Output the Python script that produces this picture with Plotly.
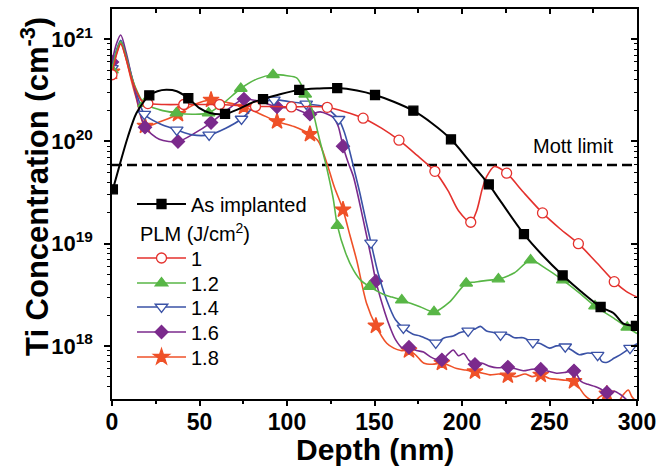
import plotly.graph_objects as go
import math

# ---------------- data ----------------
mott_limit = 5.9e19
depth_range = [0, 300]

as_impl_depth = [0.5, 4.5, 9, 14, 21.3, 26, 31, 37, 43.6, 50, 56, 64.6, 73, 80, 86.3, 96, 107, 118,
                 128.7, 140, 150.3, 161, 172.2, 183, 193.7, 204, 215.3, 221.7, 235.4, 246, 257.5, 268,
                 279.2, 286.5, 292.2, 299.4]
as_impl_conc = [3.4e19, 6.0e19, 1.1e20, 1.9e20, 2.83e20, 3.1e20, 3.2e20, 3.1e20, 2.65e20, 2.12e20,
                1.9e20, 1.86e20, 2.1e20, 2.4e20, 2.6e20, 2.9e20, 3.2e20, 3.3e20, 3.33e20, 3.15e20,
                2.85e20, 2.45e20, 2.0e20, 1.5e20, 1.05e20, 6.5e19, 3.8e19, 2.65e19, 1.24e19, 7.7e18,
                4.9e18, 3.4e18, 2.4e18, 2.1e18, 1.65e18, 1.57e18]
as_impl_marks = [0.5, 21.3, 43.6, 64.6, 86.3, 107, 128.7, 150.3, 172.2, 193.7, 215.3, 235.4, 257.5,
                 279.2, 299.4]

plm1_depth = [0, 2.5, 5, 8, 11, 14, 17, 20.5, 30, 41, 51, 61.5, 72, 82, 92, 102.5, 113, 123, 133,
              143.5, 154, 164, 174, 184.5, 192, 198, 205, 208.4, 211.5, 214, 218.5, 225.5, 235, 246,
              256, 266.5, 277, 287, 294, 300]
plm1_conc = [4.5e20, 7.0e20, 9.0e20, 6.5e20, 4.2e20, 3.1e20, 2.5e20, 2.35e20, 2.3e20, 2.3e20, 2.3e20,
             2.3e20, 2.25e20, 2.2e20, 2.2e20, 2.18e20, 2.2e20, 2.16e20, 1.95e20, 1.69e20, 1.35e20,
             1.03e20, 7.4e19, 5.1e19, 3.3e19, 2.1e19, 1.62e19, 2.1e19, 3.4e19, 4.5e19, 5.7e19,
             4.9e19, 3.2e19, 2.0e19, 1.4e19, 1.0e19, 6.5e18, 4.25e18, 3.4e18, 3.0e18]
plm1_marks = [0, 20.5, 41, 61.5, 82, 102.5, 123, 143.5, 164, 184.5, 205, 225.5, 246, 266.5, 287]

plm12_depth = [0, 2.5, 5, 8, 11, 14, 18.4, 27, 36.8, 46, 55.2, 64, 73.6, 83, 92, 100, 105.5, 108.5,
               110.4, 113, 115.5, 118, 120.5, 122.3, 124.5, 126.5, 128.8, 133.5, 138, 142, 147.2,
               155, 160, 165.6, 171, 176, 184, 193, 202.4, 207, 211, 216, 220.8, 230, 239.2, 248,
               257.6, 267, 276, 286, 294.4, 300]
plm12_conc = [5.0e20, 7.5e20, 9.5e20, 6.8e20, 4.4e20, 3.2e20, 2.35e20, 2.05e20, 1.9e20, 1.85e20,
              1.9e20, 2.4e20, 3.3e20, 4.1e20, 4.5e20, 4.4e20, 4.2e20, 3.5e20, 2.9e20, 2.4e20, 1.75e20,
              1.15e20, 7.8e19, 5.9e19, 4.0e19, 2.7e19, 1.5e19, 8.1e18, 5.5e18, 4.4e18, 3.8e18,
              3.2e18, 3.0e18, 2.8e18, 2.6e18, 2.42e18, 2.15e18, 2.7e18, 4.1e18, 4.2e18, 4.3e18,
              4.4e18, 4.5e18, 5.2e18, 6.9e18, 5.7e18, 4.4e18, 3.3e18, 2.45e18, 1.9e18, 1.52e18,
              1.32e18]
plm12_marks = [0, 18.4, 36.8, 55.2, 73.6, 92, 110.4, 128.8, 147.2, 165.6, 184, 202.4, 220.8, 239.2,
               257.6, 276, 294.4]

plm14_depth = [0, 2.5, 5, 8, 11, 14, 18.5, 27, 37, 46, 55.5, 65, 74, 83, 92.5, 102, 111, 121, 129.5,
               133, 136, 139, 141.7, 145, 148, 152, 157, 162, 166.5, 172, 176, 181, 185, 190, 195,
               199, 203.5, 207, 210.5, 214, 218, 222, 226, 230, 235, 240.5, 245, 250, 254, 259, 263,
               267, 272, 277.5, 280, 283, 287, 291, 296, 300]
plm14_conc = [5.2e20, 7.8e20, 9.8e20, 7.0e20, 4.5e20, 3.0e20, 1.85e20, 1.5e20, 1.3e20, 1.16e20,
              1.16e20, 1.35e20, 1.66e20, 2.3e20, 2.55e20, 2.45e20, 2.33e20, 2.2e20, 1.65e20, 1.2e20,
              7.8e19, 4.8e19, 3.1e19, 1.7e19, 1.02e19, 5.2e18, 2.8e18, 1.8e18, 1.5e18, 1.3e18,
              1.25e18, 1.15e18, 1.07e18, 1.2e18, 1.25e18, 1.35e18, 1.4e18, 1.45e18, 1.55e18, 1.4e18,
              1.35e18, 1.28e18, 1.3e18, 1.2e18, 1.2e18, 1.08e18, 1.05e18, 9.5e17, 1.0e18, 9.8e17,
              9.0e17, 8.2e17, 8.5e17, 8.1e17, 7.0e17, 6.9e17, 7.6e17, 8.3e17, 9.5e17, 1.05e18]
plm14_marks = [0, 18.5, 37, 55.5, 74, 92.5, 111, 129.5, 148, 166.5, 185, 203.5, 222, 240.5, 259,
               277.5, 296]

plm16_depth = [0, 2.5, 5, 8, 11, 14, 18.85, 27, 37.7, 47, 56.6, 66, 75.4, 85, 94.3, 104, 113.1, 119,
               126.5, 129.3, 132, 135, 138, 143.6, 148.4, 150.8, 156, 159, 162, 166, 169.7, 174, 178,
               182, 185, 188.5, 192, 195, 198, 201, 204, 207.4, 211, 216, 220, 226.2, 230, 235, 240,
               245, 250, 254, 259, 264, 268, 272, 276, 279, 282.8, 287, 291, 295, 300]
plm16_conc = [6.0e20, 9.0e20, 1.1e21, 7.5e20, 4.5e20, 2.7e20, 1.38e20, 1.05e20, 1.0e20, 1.2e20,
              1.53e20, 2.05e20, 2.6e20, 2.45e20, 2.18e20, 2.1e20, 1.85e20, 1.95e20, 1.72e20, 1.4e20,
              9.0e19, 6.2e19, 4.5e19, 1.7e19, 6.9e18, 4.3e18, 2.1e18, 1.5e18, 1.15e18, 9.5e17,
              9.7e17, 9.0e17, 8.7e17, 7.8e17, 7.4e17, 7.3e17, 8.3e17, 9.1e17, 8.0e17, 8.4e17, 7.2e17,
              6.6e17, 6.8e17, 6.3e17, 6.1e17, 6.2e17, 6.0e17, 5.7e17, 5.9e17, 5.9e17, 5.6e17, 5.4e17,
              5.5e17, 5.7e17, 4.5e17, 4.2e17, 4.0e17, 3.8e17, 3.5e17, 3.6e17, 3.3e17, 2.9e17, 2.8e17]
plm16_marks = [0, 18.85, 37.7, 56.6, 75.4, 94.3, 113.1, 132, 150.8, 169.7, 188.5, 207.4, 226.2, 245,
               264, 282.8]

plm18_depth = [0, 2.5, 5, 8, 11, 14, 18.85, 27, 37.7, 47, 56.6, 66, 75.4, 85, 94.3, 104, 113.1, 118,
               122.7, 127, 132, 136, 139.8, 145.5, 150.8, 157, 161, 165, 169.7, 174, 178, 183, 188.5,
               192, 197, 202, 207.4, 212, 216, 221, 226.2, 231, 236, 240, 245, 250, 255, 259, 264,
               267, 270, 273, 276, 279, 282.8, 286, 289, 292, 295, 297, 300]
plm18_conc = [4.8e20, 7.2e20, 9.2e20, 6.5e20, 4.0e20, 2.6e20, 1.42e20, 1.55e20, 1.85e20, 2.3e20,
              2.55e20, 2.4e20, 2.18e20, 1.85e20, 1.57e20, 1.4e20, 1.18e20, 1.0e20, 6.2e19, 3.6e19,
              2.15e19, 1.2e19, 6.9e18, 2.6e18, 1.57e18, 1.06e18, 9.5e17, 9.0e17, 9.0e17, 8.0e17,
              6.8e17, 6.6e17, 6.8e17, 6.5e17, 6.0e17, 5.8e17, 5.6e17, 5.4e17, 5.2e17, 5.3e17, 5.1e17,
              5.0e17, 5.3e17, 5.0e17, 5.2e17, 4.8e17, 4.7e17, 4.6e17, 4.5e17, 3.9e17, 3.3e17, 3.0e17,
              2.9e17, 3.2e17, 3.4e17, 2.9e17, 2.8e17, 3.3e17, 3.7e17, 3.2e17, 2.8e17]
plm18_marks = [0, 18.85, 37.7, 56.6, 75.4, 94.3, 113.1, 132, 150.8, 169.7, 188.5, 207.4, 226.2, 245,
               264, 282.8]

x_ticks = [0, 50, 100, 150, 200, 250, 300]
y_tick_exponents = [18, 19, 20, 21]

# ---------------- styling ----------------
FONT = "Liberation Sans, Arial, sans-serif"

series = [
    # name, depth, conc, marks, color, symbol, size, fill, legend id, line width
    ("As implanted", as_impl_depth, as_impl_conc, as_impl_marks, "#000000", "square", 9, True, "legend", 2.0),
    ("1", plm1_depth, plm1_conc, plm1_marks, "#e4312d", "circle", 10, False, "legend2", 1.6),
    ("1.2", plm12_depth, plm12_conc, plm12_marks, "#58b646", "triangle-up", 11, True, "legend3", 1.6),
    ("1.4", plm14_depth, plm14_conc, plm14_marks, "#3a52a6", "triangle-down", 11, False, "legend4", 1.6),
    ("1.6", plm16_depth, plm16_conc, plm16_marks, "#7b2a8c", "diamond", 10, True, "legend5", 1.6),
    ("1.8", plm18_depth, plm18_conc, plm18_marks, "#ef5128", "star", 12, True, "legend6", 1.6),
]

legend_rows = {"legend": 204, "legend2": 258, "legend3": 283, "legend4": 307, "legend5": 332,
               "legend6": 357}

L, R, T, B = 112, 32, 9, 67
W, H = 669, 466
PW, PH = W - L - R, H - T - B

def px_to_paper_x(px):
    return (px - L) / PW

def py_to_paper_y(py):
    return 1 - (py - T) / PH

fig = go.Figure()

# Mott limit line
fig.add_trace(go.Scatter(x=depth_range, y=[mott_limit, mott_limit], mode="lines",
                         line=dict(color="black", width=2.5, dash="10px,5px"),
                         showlegend=False, hoverinfo="skip"))

order = [5, 4, 3, 2, 1, 0]
for idx in order:
    name, d, c, marks, color, symbol, size, fill, leg, lw = series[idx]
    mfill = color if fill else "white"
    fig.add_trace(go.Scatter(x=d, y=c, mode="lines", line=dict(color=color, width=lw, shape="spline",
                                                               smoothing=0.8),
                             showlegend=False, hoverinfo="skip"))
    mset = set(marks)
    mx = [x for x in d if x in mset]
    my = [y for x, y in zip(d, c) if x in mset]
    fig.add_trace(go.Scatter(x=mx, y=my, mode="markers",
                             marker=dict(symbol=symbol, size=size, color=mfill,
                                         line=dict(color=color, width=1.3)),
                             showlegend=False, hoverinfo="skip"))

# legend entries
for name, d, c, marks, color, symbol, size, fill, leg, lw in series:
    mfill = color if fill else "white"
    fig.add_trace(go.Scatter(x=[None], y=[None], mode="lines+markers", name=name, legend=leg,
                             line=dict(color=color, width=lw),
                             marker=dict(symbol=symbol, size=size, color=mfill,
                                         line=dict(color=color, width=1.3))))

# dummy trace for mirrored axes
fig.add_trace(go.Scatter(x=[None], y=[None], xaxis="x2", yaxis="y2", showlegend=False))

log_lo = 17.48
log_hi = 21.2965
major_vals = [10.0 ** e for e in y_tick_exponents]
minor_vals = [k * 10.0 ** e for e in range(17, 22) for k in range(2, 10)]
x_minor = [25, 75, 125, 175, 225, 275]

for leg, py in legend_rows.items():
    fig.update_layout({leg: dict(x=px_to_paper_x(132), y=py_to_paper_y(py), xanchor="left",
                                 yanchor="middle", bgcolor="rgba(0,0,0,0)", borderwidth=0,
                                 font=dict(family=FONT, size=20, color="black"), itemwidth=49,
                                 tracegroupgap=0)})

axis_common = dict(showline=True, linecolor="black", linewidth=1.5, showgrid=False, zeroline=False)

fig.update_layout(
    width=W, height=H,
    margin=dict(l=L, r=R, t=T, b=B),
    paper_bgcolor="white", plot_bgcolor="white",
    xaxis=dict(range=[0, 300], tickvals=x_ticks, ticks="outside", ticklen=5, tickwidth=1.5,
               tickcolor="black", ticklabelstandoff=-3,
               minor=dict(tickvals=x_minor, ticks="outside", ticklen=3.5,
                          tickwidth=1.5, tickcolor="black"),
               tickfont=dict(family=FONT, size=23, color="black", weight="bold"),
               **axis_common),
    yaxis=dict(type="log", range=[log_lo, log_hi], tickvals=major_vals,
               ticktext=[f"10<sup>{e}</sup>" for e in y_tick_exponents], ticks="outside", ticklen=6,
               tickwidth=1.5, tickcolor="black", ticklabelstandoff=7,
               minor=dict(tickvals=minor_vals, ticks="outside", ticklen=3.5, tickwidth=1.2,
                          tickcolor="black"),
               tickfont=dict(family=FONT, size=22, color="black", weight="bold"),
               **axis_common),
    xaxis2=dict(range=[0, 300], overlaying="x", side="top", anchor="y", tickvals=x_ticks,
                ticks="inside", ticklen=5, tickwidth=1.5, tickcolor="black", showticklabels=False,
                minor=dict(tickvals=x_minor, ticks="inside", ticklen=4,
                           tickwidth=1.5, tickcolor="black"),
                **axis_common),
    yaxis2=dict(type="log", range=[log_lo, log_hi], overlaying="y", side="right", anchor="x",
                tickvals=major_vals, ticks="inside", ticklen=6,
                tickwidth=1.5, tickcolor="black", showticklabels=False,
                minor=dict(tickvals=minor_vals, ticks="inside", ticklen=3.5, tickwidth=1.2,
                           tickcolor="black"),
                **axis_common),
    showlegend=True,
)

fig.add_annotation(text="Depth (nm)", xref="paper", yref="paper", x=0.5, y=py_to_paper_y(449),
                   xanchor="center", yanchor="middle", showarrow=False,
                   font=dict(family=FONT, size=30, color="black", weight="bold"))
fig.add_annotation(text="Ti Concentration (cm<sup>-3</sup>)", xref="paper", yref="paper",
                   x=px_to_paper_x(35), y=py_to_paper_y(187), textangle=-90, xanchor="center",
                   yanchor="middle", showarrow=False,
                   font=dict(family=FONT, size=31, color="black", weight="bold"))
fig.add_annotation(text="PLM (J/cm<sup>2</sup>)", xref="paper", yref="paper",
                   x=px_to_paper_x(138), y=py_to_paper_y(233), xanchor="left", yanchor="middle",
                   showarrow=False, font=dict(family=FONT, size=20, color="black"))
fig.add_annotation(text="Mott limit", xref="paper", yref="paper",
                   x=px_to_paper_x(531), y=py_to_paper_y(146), xanchor="left", yanchor="middle",
                   showarrow=False, font=dict(family=FONT, size=20, color="black"))

fig.write_html("out.html", config={"displayModeBar": False},
               post_script="document.body.style.margin='0';")
